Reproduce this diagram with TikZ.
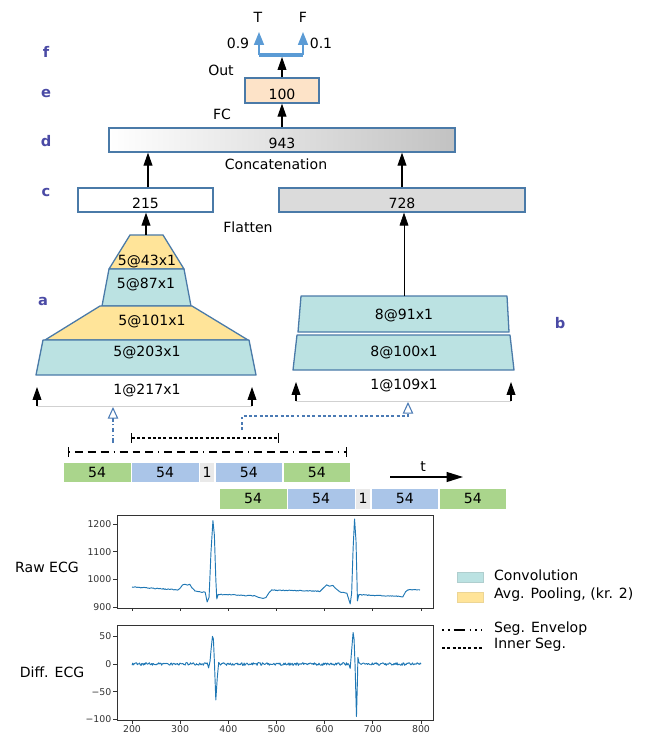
\documentclass[tikz,border=0pt]{standalone}
\usepackage{fontspec}
\setmainfont{DejaVu Sans}
\usetikzlibrary{arrows.meta,positioning}
\definecolor{bord}{RGB}{74,122,168}
\definecolor{convc}{RGB}{187,226,226}
\definecolor{poolc}{RGB}{255,228,153}
\definecolor{peche}{RGB}{253,227,200}
\definecolor{vert}{RGB}{170,213,140}
\definecolor{bleu}{RGB}{170,197,232}
\definecolor{gris}{RGB}{233,233,233}
\definecolor{lettre}{RGB}{74,74,165}
\definecolor{tfc}{RGB}{91,155,213}
\definecolor{ecgc}{RGB}{31,119,180}
\definecolor{pointc}{RGB}{74,122,180}

\begin{document}
\begin{tikzpicture}[x=.03cm,y=-.03cm,font=\fontsize{12}{14}\selectfont]
  \tikzstyle{bx}=[draw=bord,line width=1.1pt,inner sep=0pt,text height=15pt,text depth=0pt]
  \tikzstyle{lab}=[font=\fontsize{12.5}{14}\selectfont\bfseries,text=lettre]
  \tikzstyle{arr}=[-{Triangle[length=11pt,width=7.5pt]},line width=.9pt]
  \tikzstyle{tf}=[draw=tfc,line width=1.2pt,-{Triangle[length=11pt,width=8.5pt]}]
  \tikzstyle{conv}=[draw=bord,fill=convc,line width=1.1pt,line join=round]
  \tikzstyle{pool}=[draw=bord,fill=poolc,line width=1.1pt,line join=round]
  \tikzstyle{seg}=[draw=white,line width=.5pt,inner sep=0pt,minimum width=2.025cm,minimum height=.6cm]
  \tikzstyle{un}=[seg,fill=gris,minimum width=.45cm]
  \tikzstyle{socle}=[draw=black!18,line width=.8pt]
  \tikzstyle{entree}=[draw=pointc,line width=.9pt,-{Triangle[open,length=10pt,width=9pt]}]
  \tikzstyle{env}=[line width=.9pt,{Bar[width=8pt]}-{Bar[width=8pt]},
    dash pattern=on .85pt off 4.25pt on 6.8pt off 4.25pt on 6.8pt off 4.25pt on 6.8pt off 4.25pt]
  \tikzstyle{envleg}=[line width=.9pt,dash pattern=on 1.5pt off 3.5pt on 1.5pt off 3.5pt on 10pt off 3.5pt]
  \tikzstyle{segin}=[line width=.9pt,dash pattern=on 2.6pt off 1.9pt]
  \tikzstyle{axe}=[draw=black!80,line width=.7pt]
  \tikzstyle{tk}=[draw=black!80,line width=.6pt]
  \tikzstyle{num}=[font=\fontsize{8}{9}\selectfont,text=black!80,inner sep=1.5pt]
  \tikzstyle{ecg}=[draw=ecgc,line width=.8pt,line join=round]
  \useasboundingbox (0,0) rectangle (648,738);
  \pgfmathsetseed{7}

  % Lettres
  \node[lab] (lf) at (46,52) {f};
  \node[lab] (le) at (46,94) {e};
  \node[lab] (ld) at (46,141) {d};
  \node[lab] (lc) at (46,193) {c};
  \node[lab] (la) at (43,302) {a};
  \node[lab] (lb) at (560,323) {b};

  % Sortie
  \node (T) at (258,17) {T};
  \node (F) at (303,17) {F};
  \node (p9) at (238,43) {0.9};
  \node (p1) at (321,43) {0.1};
  \coordinate (tL) at (259,55);
  \coordinate (tR) at (303,55);
  \coordinate (tipT) at (259,32);
  \coordinate (tipF) at (303,32);
  \draw[tfc,line width=2.6pt] (tL) -- (tR);
  \draw[tf] (tL) -- (tipT);
  \draw[tf] (tR) -- (tipF);
  \coordinate (bar) at (282,57);

  % Couches denses
  \node (out) at (221,70) {Out};
  \node[bx,fill=peche,minimum width=2.22cm,minimum height=.75cm] (e) at (282,90.5) {100};
  \node (fc) at (222,114) {FC};
  \node[bx,left color=white,right color=black!24,minimum width=10.38cm,minimum height=.72cm] (d) at (282,140) {943};
  \node (cat) at (276,164) {Concatenation};
  \node[bx,fill=white,minimum width=4.05cm,minimum height=.72cm] (c1) at (145.5,200) {215};
  \node[bx,fill=black!14,minimum width=7.38cm,minimum height=.72cm] (c2) at (402,200) {728};
  \node (flat) at (248,227) {Flatten};
  \draw[arr] (e.north) -- (bar);
  \draw[arr] (e.south |- d.north) -- (e.south);
  \draw[arr] (c1.north -| 148,0) -- (d.south -| 148,0);
  \draw[arr] (c2.north) -- (c2.north |- d.south);

  % Branche a (trapezes)
  \draw[pool] (130,235) -- (163,235) -- (184,269) -- (109,269) -- cycle;
  \draw[conv] (109,269) -- (184,269) -- (191,306) -- (102,306) -- cycle;
  \draw[pool] (100,306) -- (192,306) -- (248,340) -- (45,340) -- cycle;
  \draw[conv] (43,340) -- (249,340) -- (256,375) -- (36,375) -- cycle;
  \node (a4) at (147,262) {5@43x1};
  \node (a3) at (146,285) {5@87x1};
  \node (a2) at (152,322) {5@101x1};
  \node (a1) at (147,353) {5@203x1};
  \node (a0) at (147,391) {1@217x1};
  \coordinate (ltop) at (146,235);
  \draw[arr] (ltop) -- (c1.south -| ltop);

  % Branche b
  \draw[conv] (301,296) -- (507,296) -- (509,332) -- (298,332) -- cycle;
  \draw[conv] (297,335) -- (510,335) -- (514,370) -- (293,370) -- cycle;
  \node (b2) at (404,316) {8@91x1};
  \node (b1) at (404,353) {8@100x1};
  \node (b0) at (404,386) {1@109x1};
  \coordinate (rtop) at (404,296);
  \draw[-{Triangle[length=11pt,width=7.5pt]},line width=.6pt] (rtop) -- (c2.south -| rtop);

  % Entrees
  \coordinate (la1) at (37,406);  \coordinate (la1t) at (37,387);
  \coordinate (la2) at (252,406); \coordinate (la2t) at (252,387);
  \coordinate (rb1) at (296,401); \coordinate (rb1t) at (296,382);
  \coordinate (rb2) at (511,401); \coordinate (rb2t) at (511,382);
  \draw[socle] (la1) -- (la2);
  \draw[socle] (rb1) -- (rb2);
  \draw[arr] (la1) -- (la1t);
  \draw[arr] (la2) -- (la2t);
  \draw[arr] (rb1) -- (rb1t);
  \draw[arr] (rb2) -- (rb2t);
  \coordinate (inA) at (113,443); \coordinate (tipA) at (113,407);
  \coordinate (inB) at (242,430); \coordinate (tipB) at (408,402);
  \draw[entree,dash pattern=on 4pt off 2pt on 1pt off 2pt] (inA) -- (tipA);
  \draw[entree,dash pattern=on 2.5pt off 2pt] (inB) |- (408,416) -- (tipB);

  % Segments
  \coordinate (inL) at (131,438); \coordinate (inR) at (279,438);
  \coordinate (envL) at (68,452); \coordinate (envR) at (347,452);
  \draw[segin,{Bar[width=8pt]}-{Bar[width=8pt]}] (inL) -- (inR);
  \draw[env] (envL) -- (envR);
  \node[seg,fill=vert,anchor=west] (r1a) at (63,472) {54};
  \node[seg,fill=bleu,right=0pt of r1a] (r1b) {54};
  \node[un,right=0pt of r1b] (r1c) {1};
  \node[seg,fill=bleu,right=0pt of r1c] (r1d) {54};
  \node[seg,fill=vert,right=0pt of r1d] (r1e) {54};
  \node[seg,fill=vert,minimum height=.63cm,anchor=west] (r2a) at (219,498.5) {54};
  \node[seg,fill=bleu,minimum height=.63cm,right=0pt of r2a] (r2b) {54};
  \node[un,minimum height=.63cm,right=0pt of r2b] (r2c) {1};
  \node[seg,fill=bleu,minimum height=.63cm,right=0pt of r2c] (r2d) {54};
  \node[seg,fill=vert,minimum height=.63cm,right=0pt of r2d] (r2e) {54};
  \coordinate (t0) at (390,477); \coordinate (t1) at (463,477);
  \draw[-{Triangle[length=14pt,width=8.5pt]},line width=1.1pt] (t0) -- (t1);
  \node (tlab) at (423,467) {t};

  % ECG brut
  \node (raw) at (47,567) {Raw ECG};
  \begin{scope}[shift={(35.67,856)},x=.01445cm,y=.0083cm]
    \draw[axe] (168.85,896.4) rectangle (824.9,1232.5);
    \foreach \v [count=\i] in {900,1000,1100,1200}
      \draw[tk] (168.85,\v) -- ++(-3pt,0) node[num,anchor=east] (ry\i) {\v};
    \foreach \t in {200,300,...,800}
      \draw[tk] (\t,896.4) -- ++(0,-3pt);
    \draw[ecg] plot[domain=200:295,samples=48] (\x,{972-0.105*(\x-200)+1.5*rand})
      -- (300,968) -- (305,980) -- (310,982) -- (315,979) -- (320,982) -- (324,970) -- (330,960)
      -- plot[domain=330:352,samples=12] (\x,{958-0.25*(\x-330)+1.5*rand})
      -- (356,918) -- (360,935) -- (364,1100) -- (368,1212) -- (371,1160) -- (374,1000) -- (376,929) -- (379,946)
      -- plot[domain=379:455,samples=38] (\x,{946-0.08*(\x-379)+1.5*rand})
      -- (462,935) -- (472,931) -- (478,934) -- (485,953) -- (490,961)
      -- plot[domain=490:590,samples=50] (\x,{961-0.04*(\x-490)+1.5*rand})
      -- (597,968) -- (604,980) -- (610,975) -- (617,978) -- (622,968) -- (630,957)
      -- plot[domain=630:646,samples=9] (\x,{955-0.3*(\x-630)+1.5*rand})
      -- (653,911) -- (656,950) -- (659,1110) -- (662,1218) -- (665,1140) -- (667,1000) -- (668,922) -- (671,945)
      -- plot[domain=671:755,samples=42] (\x,{944-0.07*(\x-671)+1.5*rand})
      -- (762,936) -- (768,955) -- (773,962)
      -- plot[domain=773:798,samples=13] (\x,{962+1.2*rand});
  \end{scope}

  % ECG differentiel
  \node (diff) at (52,672) {Diff. ECG};
  \begin{scope}[shift={(35.67,664)},x=.01445cm,y=.01659cm]
    \draw[axe] (168.85,-101.3) rectangle (824.9,70.5);
    \foreach \v/\l [count=\i] in {50/50,0/0,-50/−50,-100/−100}
      \draw[tk] (168.85,\v) -- ++(-3pt,0) node[num,anchor=east] (dy\i) {\l};
    \foreach \t [count=\i] in {200,300,...,800}
      \draw[tk] (\t,-101.3) -- ++(0,-3pt) node[num,anchor=north] (dx\i) {\t};
    \draw[ecg] plot[domain=200:356,samples=100] (\x,{2.5*rand})
      -- (359,-7) -- (362,5) -- (364,25) -- (367,50) -- (369,45) -- (371,5) -- (374,-65) -- (377,-25) -- (380,3)
      -- plot[domain=382:650,samples=170] (\x,{2.5*rand})
      -- (653,-8) -- (656,25) -- (659,57) -- (661,45) -- (663,0) -- (666,-95) -- (668,-30) -- (669,12) -- (671,3)
      -- plot[domain=673:800,samples=80] (\x,{2.5*rand});
  \end{scope}

  % Legende
  \draw[draw=convc!80!gray,fill=convc] (457,572) rectangle (483,582);
  \draw[draw=poolc!85!gray,fill=poolc] (457,592) rectangle (483,602);
  \node[anchor=west] (lconv) at (490,575) {Convolution};
  \node[anchor=west] (lpool) at (490,595) {Avg. Pooling, (kr. 2)};
  \coordinate (e0) at (442,630); \coordinate (e1) at (482,630);
  \coordinate (i0) at (442,648); \coordinate (i1) at (484,648);
  \draw[envleg] (e0) -- (e1);
  \draw[segin] (i0) -- (i1);
  \node[anchor=west] (lenv) at (490,629) {Seg. Envelop};
  \node[anchor=west] (linn) at (490,645) {Inner Seg.};
\end{tikzpicture}
\end{document}
